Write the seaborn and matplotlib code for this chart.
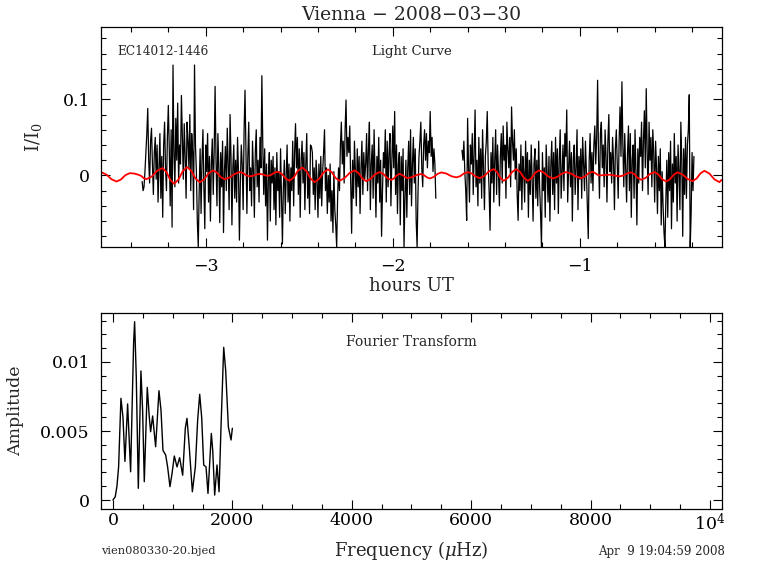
import numpy as np
import pandas as pd
import seaborn as sns
import matplotlib.pyplot as plt
from matplotlib.ticker import MultipleLocator, FuncFormatter

# light curve, two observing segments, relative flux in units of 0.001 (I/I0)
seg1_start, seg1_end = -3.34, -1.77
seg1_milli = [
    -8, -20, -15, 5, 30, 55, 88, 20, -10, 45, 62, 15, -25, 30, 50, -5, 40, -35, 10, 55,
    -30, 25, -55, 40, 70, 10, -20, 50, 92, 35, -40, 60, -68, 145, 30, -15, 75, 20, 95, -10,
    40, 15, 105, 50, -5, 68, 25, -30, 70, 45, 10, 80, -20, 55, 30, -45, 145, 40, 5, -60,
    -94, -20, 35, -50, 20, 60, -15, -70, 40, 5, 55, -35, 25, -60, 15, 48, -25, 30, 117, 20,
    -40, 55, 10, -62, 30, -15, 45, -75, 5, 38, -20, 62, 15, -45, 80, 25, -65, 10, 40, -30,
    20, -35, 50, 5, -85, -10, 40, 15, -45, 60, 112, 30, -50, 25, 70, -20, 10, -40, 45, 5,
    -55, 30, 60, -15, 20, -35, 50, 10, 131, 40, -25, 35, -40, 15, -85, 0, 30, -60, 20, -10,
    25, -45, 10, -65, 30, -20, 5, -55, 35, -30, -90, -15, 20, -50, 0, 40, -35, 15, -60, 10,
    -20, 45, -40, 30, 68, 10, 50, -25, 35, -55, 20, 45, -10, 30, -45, 15, 55, -30, 5, -50,
    40, 38, 30, -25, 10, -45, 20, -5, -55, 15, -30, 25, -40, 5, 30, 60, -20, 10, -50, 0,
    -35, 15, -60, -20, -75, 5, -45, -65, -94, -30, 10, -20, 40, 70, 15, 45, -10, 60, 99, 25,
    50, 30, 65, -10, -76, 20, -30, 45, 5, -40, 35, -15, 25, -50, 10, 45, -25, 30, -5, 15,
    55, -20, 35, 70, -45, 15, 40, -30, 60, 5, -55, 25, -10, 50, -35, 20, -80, -20, 30, 10,
    60, -35, 45, -15, 30, 55, -40, 20, 65, 10, 84, -25, 40, -50, 15, 30, -65, 25, -20, 35,
    -94, -30, 20, -55, 10, 45, -25, 60, -40, 15, 50, -10, 35, -60, -94, -20, 25, 45, 70, 10,
    -15, 40, 60, 20, 55, 10, 45, 30, 84, 25, 50, 5, 35, 15, -30,
]
seg2_start, seg2_end = -1.63, -0.39
seg2_milli = [
    33, 20, 45, 5, -20, -59, 75, 10, -35, 40, 15, 55, -25, 30, 86, -15, 20, -40, 50, -10,
    35, -30, 60, 10, -45, 25, 45, 84, 15, -20, -72, 30, -10, 50, -35, 20, 60, -25, 40, 5,
    -40, 25, 55, -10, 65, 20, 40, -30, 70, 35, 10, 50, -15, 90, 45, 20, 60, -5, 35, -25,
    -59, 15, -20, 40, -45, 25, 5, -35, 45, -10, 30, -55, 20, -25, 40, -5, -60, 15, 35, -30,
    20, -40, 45, -15, -50, -94, 30, -20, 10, -55, 40, 5, -35, 25, -60, 15, 45, -25, 30, -45,
    50, -10, 35, -50, 20, 60, -30, 5, 40, -20, 55, 25, 86, -35, 10, 45, -15, 30, -60, 20,
    40, -25, 10, 60, -45, 25, -5, 35, -30, 50, 15, -20, 45, 5, -40, -83, 20, 55, -10, 30,
    -20, 40, 65, 15, 50, 125, 20, -30, 55, 70, 10, 40, -15, 60, 25, -35, 45, 80, 5, 30,
    -10, 50, 20, -45, 35, 60, 15, -30, 45, 90, 25, 123, 40, -15, 55, 10, -35, 30, 65, -20,
    55, -55, 20, 40, -30, 60, 5, -65, 35, -10, 50, 25, 70, -20, 45, 85, 10, 114, 30, -25,
    70, 20, 50, -15, 60, 30, -35, 45, 10, -50, 25, -20, 35, -65, 5, -40, -75, -94, -30, 20,
    -55, 30, -20, 45, -70, 15, -35, 55, -10, 25, -60, 40, 5, -45, 70, 20, -80, 35, -25, 50,
    -30, 40, 60, 106, -94, -50, 30, -20, 25,
]

# multi-sine fit (red curve)
fit_t = [
    -3.557, -3.530, -3.504, -3.477, -3.453, -3.430, -3.406, -3.383, -3.361, -3.346, -3.332, -3.317,
    -3.288, -3.260, -3.231, -3.210, -3.190, -3.169, -3.146, -3.123, -3.100, -3.077, -3.055, -3.032,
    -3.008, -2.985, -2.961, -2.940, -2.920, -2.899, -2.872, -2.845, -2.818, -2.800, -2.783, -2.765,
    -2.747, -2.730, -2.712, -2.697, -2.682, -2.667, -2.649, -2.632, -2.614, -2.593, -2.573, -2.552,
    -2.529, -2.507, -2.484, -2.462, -2.440, -2.418, -2.394, -2.371, -2.347, -2.326, -2.306, -2.285,
    -2.258, -2.231, -2.204, -2.183, -2.163, -2.142, -2.118, -2.095, -2.071, -2.050, -2.030, -2.009,
    -1.994, -1.979, -1.964, -1.949, -1.935, -1.920, -1.896, -1.873, -1.849, -1.833, -1.818, -1.802,
    -1.781, -1.761, -1.740, -1.713, -1.687, -1.660, -1.639, -1.619, -1.598, -1.577, -1.556, -1.535,
    -1.510, -1.486, -1.461, -1.443, -1.425, -1.407, -1.385, -1.362, -1.340, -1.319, -1.299, -1.278,
    -1.258, -1.239, -1.219, -1.194, -1.169, -1.144, -1.120, -1.097, -1.073, -1.046, -1.020, -0.993,
    -0.973, -0.954, -0.934, -0.921, -0.908, -0.895, -0.868, -0.841, -0.815, -0.788, -0.767, -0.747,
    -0.726, -0.708, -0.690, -0.672, -0.648, -0.625, -0.601, -0.580, -0.560, -0.539, -0.518, -0.498,
    -0.477, -0.450, -0.424, -0.397, -0.376, -0.355, -0.334, -0.307, -0.281, -0.254, -0.243]
fit_v = [
    0.004, 0.001, -0.005, -0.008, -0.0053, 0.0003, 0.003, 0.0025, 0.001, -0.0005, -0.0035, -0.005,
    -0.0013, 0.006, 0.0097, 0.0045, -0.0058, -0.011, -0.0055, 0.0055, 0.011, 0.006, -0.004, -0.009,
    -0.0051, 0.0027, 0.0066, 0.0037, -0.0021, -0.005, -0.0027, 0.002, 0.0044, 0.003, 0.0001, -0.0013,
    -0.0005, 0.0012, 0.002, 0.0014, 0.0001, -0.0005, 0.0009, 0.0036, 0.005, 0.002, -0.004, -0.007,
    -0.0026, 0.0061, 0.0105, 0.0057, -0.004, -0.0088, -0.0046, 0.0037, 0.0079, 0.0042, -0.0033, -0.007,
    -0.0036, 0.0032, 0.0066, 0.0031, -0.004, -0.0075, -0.0045, 0.0014, 0.0044, 0.0018, -0.0034, -0.006,
    -0.004, 0.0, 0.002, 0.0006, -0.0021, -0.0035, -0.0022, 0.0005, 0.0018, 0.0004, -0.0025, -0.004,
    -0.002, 0.002, 0.004, 0.0024, -0.001, -0.0026, -0.0009, 0.0027, 0.0044, 0.0024, -0.0015, -0.0035,
    -0.0006, 0.0054, 0.0083, 0.0045, -0.0032, -0.007, -0.0032, 0.0045, 0.0083, 0.0045, -0.0032, -0.007,
    -0.0036, 0.0032, 0.0066, 0.004, -0.0014, -0.004, -0.0019, 0.0023, 0.0044, 0.0024, -0.0015, -0.0035,
    -0.0014, 0.0027, 0.0048, 0.0036, 0.0012, 0.0, 0.0005, 0.001, -0.0001, -0.0013, 0.0, 0.0027,
    0.004, 0.0016, -0.0033, -0.0057, -0.0032, 0.0019, 0.0044, 0.0013, -0.0049, -0.008, -0.005, 0.001,
    0.004, 0.0011, -0.0046, -0.0075, -0.0041, 0.0027, 0.0061, 0.0024, -0.0051, -0.0088, -0.006]

# Fourier transform amplitude spectrum
ft_freq = [0, 39, 67, 95, 134, 168, 201, 246, 296, 346, 363, 391, 425, 469, 497, 525, 575,
           609, 631, 665, 715, 771, 805, 838, 883, 916, 955, 989, 1028, 1073, 1117, 1168,
           1212, 1240, 1274, 1330, 1380, 1419, 1453, 1486, 1520, 1559, 1592, 1648, 1671,
           1704, 1743, 1777, 1810, 1855, 1888, 1933, 1978, 2000]
ft_amp = [0, 0.00024, 0.001, 0.0024, 0.00737, 0.006, 0.0028, 0.00696, 0.00205, 0.01135,
          0.01292, 0.0089, 0.00085, 0.00935, 0.0065, 0.00133, 0.00816, 0.006, 0.00495,
          0.00609, 0.00386, 0.00792, 0.0065, 0.0036, 0.00326, 0.0024, 0.00097, 0.0019,
          0.00319, 0.0024, 0.00307, 0.0018, 0.0052, 0.00592, 0.0041, 0.0006, 0.0024,
          0.0058, 0.00766, 0.006, 0.00254, 0.0024, 0.00048, 0.00483, 0.0036, 0.00036,
          0.00254, 0.0006, 0.0053, 0.01106, 0.0094, 0.0053, 0.00435, 0.0052]

sns.set_style("ticks")
plt.rcParams['font.family'] = ['DejaVu Serif']
plt.rcParams['mathtext.fontset'] = 'dejavuserif'

fig = plt.figure(figsize=(7.68, 5.74), dpi=100)
ax1 = fig.add_axes([0.1315, 0.5697, 0.8086, 0.3833])
ax2 = fig.add_axes([0.1315, 0.1132, 0.8086, 0.342])

def minus(v, p):
    return f"{v:g}".replace('-', '\u2212')

# top: light curve
for t0, t1, milli in [(seg1_start, seg1_end, seg1_milli), (seg2_start, seg2_end, seg2_milli)]:
    df = pd.DataFrame({'t': np.linspace(t0, t1, len(milli)),
                       'flux': np.array(milli) / 1000.0})
    sns.lineplot(data=df, x='t', y='flux', ax=ax1, color='black', lw=0.9,
                 estimator=None, sort=False)
sns.lineplot(x=fit_t, y=fit_v, ax=ax1, color='red', lw=1.3, estimator=None, sort=False,
             solid_joinstyle='round')

ax1.set_xlim(-3.56, -0.24)
ax1.set_ylim(-0.094, 0.195)
ax1.xaxis.set_major_locator(MultipleLocator(1))
ax1.xaxis.set_minor_locator(MultipleLocator(0.2))
ax1.yaxis.set_major_locator(MultipleLocator(0.1))
ax1.yaxis.set_minor_locator(MultipleLocator(0.02))
ax1.xaxis.set_major_formatter(FuncFormatter(minus))
ax1.yaxis.set_major_formatter(FuncFormatter(minus))
ax1.set_xlabel('hours UT', fontsize=13)
ax1.set_ylabel('I/I$_0$', fontsize=13)
ax1.xaxis.set_label_coords(0.5, -0.136)
ax1.yaxis.set_label_coords(-0.092, 0.5)
ax1.set_title('Vienna \u2212 2008\u221203\u221230', fontsize=13.5, pad=5)
ax1.text(0.026, 0.89, 'EC14012-1446', transform=ax1.transAxes, fontsize=8.7,
         ha='left', va='center')
ax1.text(0.5, 0.89, 'Light Curve', transform=ax1.transAxes, fontsize=9.5,
         ha='center', va='center')

# bottom: Fourier transform
sns.lineplot(x=ft_freq, y=ft_amp, ax=ax2, color='black', lw=1.0, estimator=None, sort=False,
             solid_joinstyle='round')
ax2.set_xlim(-200, 10200)
ax2.set_ylim(-0.00065, 0.01357)
ax2.xaxis.set_major_locator(MultipleLocator(2000))
ax2.xaxis.set_minor_locator(MultipleLocator(500))
ax2.yaxis.set_major_locator(MultipleLocator(0.005))
ax2.yaxis.set_minor_locator(MultipleLocator(0.001))
ax2.xaxis.set_major_formatter(FuncFormatter(lambda v, p: '$10^4$' if v == 10000 else f"{v:g}"))
ax2.yaxis.set_major_formatter(FuncFormatter(lambda v, p: f"{v:g}"))
ax2.set_xlabel('Frequency ($\\mu$Hz)', fontsize=13)
ax2.set_ylabel('Amplitude', fontsize=12.5)
ax2.xaxis.set_label_coords(0.5, -0.155)
ax2.yaxis.set_label_coords(-0.124, 0.5)
ax2.text(0.5, 0.852, 'Fourier Transform', transform=ax2.transAxes, fontsize=10,
         ha='center', va='center')

for ax, xpad in [(ax1, 8), (ax2, 2.5)]:
    ax.tick_params(which='both', direction='in', top=True, right=True, width=0.8,
                   colors='black', labelsize=12.5)
    ax.tick_params(which='major', length=6.8)
    ax.tick_params(which='minor', length=3.6)
    ax.tick_params(axis='x', which='major', pad=xpad)
    ax.tick_params(axis='y', which='major', pad=8)
    for s in ax.spines.values():
        s.set_linewidth(0.9)
        s.set_color('black')

fig.text(101 / 768, 1 - 551 / 574, 'vien080330-20.bjed', fontsize=8.2, ha='left', va='center')
fig.text(725 / 768, 1 - 551 / 574, 'Apr  9 19:04:59 2008', fontsize=8.5, ha='right', va='center')

fig.savefig('out.png', dpi=100)
